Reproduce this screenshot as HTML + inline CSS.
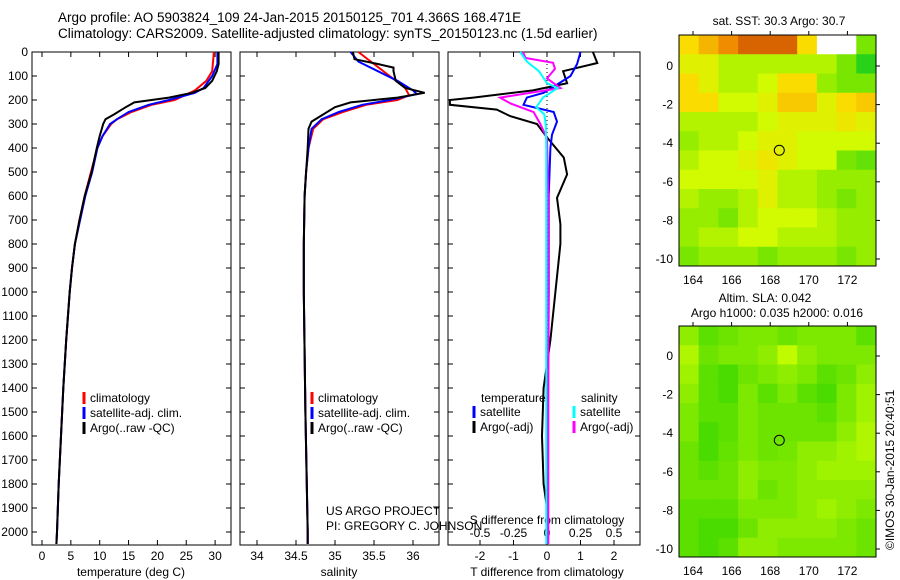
<!DOCTYPE html>
<html><head><meta charset="utf-8"><style>
html,body{margin:0;padding:0;background:#fff;}
svg{display:block;font-family:"Liberation Sans",sans-serif;}
</style></head><body>
<svg id="fig" width="900" height="580" viewBox="0 0 900 580" xmlns="http://www.w3.org/2000/svg">
<text x="58" y="22" font-size="13.5">Argo profile: AO 5903824_109 24-Jan-2015 20150125_701 4.366S 168.471E</text>
<text x="58" y="38" font-size="13.5">Climatology: CARS2009. Satellite-adjusted climatology: synTS_20150123.nc (1.5d earlier)</text>
<g id="g"></g>
</svg>
<script>
// ---- data ----
const depthTicks=[0,100,200,300,400,500,600,700,800,900,1000,1100,1200,1300,1400,1500,1600,1700,1800,1900,2000];
const tempTicks=[0,5,10,15,20,25,30];
const salTicks=[34,34.5,35,35.5,36];
const salTickLabels=["34","34.5","35","35.5","36"];
const tdTicks=[-2,-1,0,1,2];
const sdTicks=[-0.5,-0.25,0,0.25,0.5];
const sdTickLabels=["-0.5","-0.25","0","0.25","0.5"];
const tArgoD=[0,50,80,120,150,170,190,200,210,230,260,280,300,350,400,500,600,700,800,900,1000,1200,1400,1600,1800,2000,2050];
const tArgoV=[30.6,30.6,30.3,29.5,28.3,26,22,19,16,14.5,12.5,11,10.6,10,9.5,8.6,7.4,6.5,5.7,5.2,4.8,4.2,3.7,3.3,2.9,2.6,2.5];
const tClimD=[0,80,120,160,200,220,250,280,300,350,400,500,600,700,800,900,1000,1200,1400,1600,1800,2000,2050];
const tClimV=[29.8,29.5,28.5,26.5,23,19,15.5,13,12,10.5,9.6,8.5,7.4,6.5,5.7,5.2,4.8,4.2,3.7,3.3,2.9,2.6,2.5];
const tSatD=[0,50,100,150,170,200,220,250,280,300,350,400,500,600,700,800,900,1000,1200,1400,1600,1800,2000,2050];
const tSatV=[30.4,30.4,29.5,28,26.5,22,18.5,15,13,11.8,10.5,9.6,8.7,7.5,6.6,5.7,5.2,4.8,4.2,3.7,3.3,2.9,2.6,2.5];
const sArgoD=[0,30,50,65,80,120,150,170,190,200,210,230,260,290,320,400,500,600,800,1000,1500,2000,2050];
const sArgoV=[35.23,35.25,35.55,35.75,35.75,35.78,35.9,36.15,35.8,35.5,35.2,35.0,34.85,34.7,34.66,34.65,34.63,34.61,34.6,34.6,34.62,34.65,34.65];
const sClimD=[0,50,100,150,180,200,220,250,280,320,400,500,600,800,1000,1500,2000,2050];
const sClimV=[35.3,35.5,35.7,35.9,35.95,35.8,35.4,35.1,34.85,34.72,34.66,34.63,34.61,34.6,34.6,34.62,34.65,34.65];
const sSatD=[0,40,80,120,160,175,200,220,250,280,320,400,500,600,800,1000,1500,2000,2050];
const sSatV=[35.2,35.3,35.55,35.8,36.0,36.05,35.7,35.35,35.05,34.83,34.7,34.66,34.63,34.61,34.6,34.6,34.62,34.65,34.65];
const dTArgoD=[0,46,80,130,160,190,200,220,240,267,300,356,440,510,608,717,800,1000,1200,1300,1400,1600,1800,1900,2050];
const dTArgoV=[1.37,1.5,0.48,0.6,-0.42,-2.2,-2.9,-2.9,-1.5,-1.1,-0.3,0,0.5,0.6,0.3,0.4,0.4,0.25,0.1,0,-0.1,-0.15,-0.1,0,0];
const dTSatD=[0,50,100,140,170,190,220,250,290,345,400,600,1000,1500,2050];
const dTSatV=[1.0,0.9,0.7,0.25,-0.1,-0.6,-0.7,0.2,0.3,0.15,0.1,0.05,0.05,0.03,0.03];
const dSArgoD=[0,25,45,70,110,150,190,215,250,300,360,600,1000,1500,2050];
const dSArgoV=[-0.18,-0.16,0.045,0.06,0.0,0.1,-0.35,-0.27,-0.1,-0.05,0,0.01,0.01,0.01,0.01];
const dSSatD=[0,40,80,130,150,190,230,260,300,400,1000,2050];
const dSSatV=[-0.2,-0.15,-0.06,0,0.08,-0.03,-0.08,-0.02,-0.01,-0.005,-0.005,-0.005];
const lonTicks=[164,166,168,170,172];
const latTicks=[0,-2,-4,-6,-8,-10];
const sstGrid=[
[0.6,0.7,0.8,0.9,0.9,0.9,0.6,-1,-1,0.3],
[0.5,0.5,0.4,0.4,0.4,0.4,0.4,0.4,0.3,0.1],
[0.6,0.5,0.4,0.4,0.45,0.6,0.6,0.35,0.3,0.3],
[0.6,0.6,0.45,0.45,0.5,0.65,0.65,0.5,0.6,0.65],
[0.4,0.4,0.4,0.4,0.45,0.5,0.5,0.5,0.55,0.5],
[0.35,0.4,0.4,0.45,0.5,0.5,0.45,0.45,0.45,0.45],
[0.4,0.45,0.45,0.5,0.55,0.5,0.45,0.45,0.3,0.25],
[0.45,0.45,0.45,0.45,0.5,0.4,0.4,0.35,0.35,0.35],
[0.4,0.35,0.35,0.4,0.5,0.4,0.4,0.35,0.3,0.35],
[0.35,0.35,0.3,0.4,0.45,0.45,0.45,0.4,0.35,0.35],
[0.35,0.4,0.4,0.45,0.45,0.4,0.4,0.4,0.35,0.35],
[0.3,0.35,0.35,0.35,0.3,0.35,0.35,0.35,0.3,0.35]];
const slaGrid=[
[0.6,0.3,0.4,0.5,0.5,0.4,0.5,0.5,0.5,0.3],
[0.8,0.4,0.5,0.5,0.6,0.9,0.6,0.5,0.5,0.5],
[0.7,0.3,0.2,0.4,0.5,0.6,0.5,0.3,0.4,0.6],
[0.6,0.3,0.2,0.5,0.3,0.5,0.3,0.2,0.5,0.7],
[0.5,0.3,0.3,0.5,0.4,0.4,0.4,0.3,0.5,0.7],
[0.5,0.2,0.3,0.5,0.4,0.4,0.4,0.4,0.6,0.8],
[0.4,0.2,0.35,0.5,0.4,0.45,0.6,0.6,0.7,0.8],
[0.4,0.3,0.4,0.6,0.5,0.5,0.6,0.7,0.7,0.7],
[0.4,0.4,0.4,0.6,0.4,0.5,0.6,0.6,0.6,0.6],
[0.3,0.3,0.3,0.5,0.5,0.5,0.6,0.7,0.6,0.5],
[0.3,0.2,0.2,0.4,0.6,0.6,0.6,0.6,0.5,0.4],
[0.3,0.2,0.3,0.6,0.6,0.5,0.5,0.5,0.5,0.4]];
const argoLon=168.471, argoLat=-4.366;

// ---- drawing ----
const NS="http://www.w3.org/2000/svg";
const G=document.getElementById('g');
function mk(tag,attrs,parent){const e=document.createElementNS(NS,tag);for(const k in attrs)e.setAttribute(k,attrs[k]);(parent||G).appendChild(e);return e;}
function txt(x,y,s,size,anchor,name){const t=mk('text',{x:x,y:y,'font-size':size||12,'text-anchor':anchor||'start'});t.textContent=s;


return t;}
const Y=d=>52+d*0.24;
const xT=v=>42+v*5.77;
const xS=v=>257+(v-34)*78;
const xDT=v=>547+v*33.5;
const xDS=v=>547+v*134;
function poly(D,V,fx,col,w,name){const p=D.map((d,i)=>fx(V[i]).toFixed(1)+','+Y(d).toFixed(1)).join(' ');
const e=mk('polyline',{points:p,fill:'none',stroke:col,'stroke-width':w||2});

}
function frame(x0,x1,name){const r=mk('rect',{x:x0,y:52,width:x1-x0,height:493,fill:'none',stroke:'#000','stroke-width':1});

}
function xticks(vals,labels,fx,ylab){vals.forEach((v,i)=>{const x=fx(v);mk('line',{x1:x,x2:x,y1:545,y2:540,stroke:'#000'});mk('line',{x1:x,x2:x,y1:52,y2:57,stroke:'#000'});txt(x,ylab,labels[i],12,'middle','x-tick-label');});}
function yticks(x0,x1,lab){depthTicks.forEach(d=>{const y=Y(d);mk('line',{x1:x0,x2:x0+5,y1:y,y2:y,stroke:'#000'});mk('line',{x1:x1,x2:x1-5,y1:y,y2:y,stroke:'#000'});if(lab)txt(28,y+4,String(d),12,'end','depth-tick-label');});}
// panel 1
frame(32,231,'temperature-panel');yticks(32,231,true);
xticks(tempTicks,tempTicks.map(String),xT,560);
txt(131,576,'temperature (deg C)',12,'middle','temperature-axis-title');
poly(tClimD,tClimV,xT,'#f00',2,'temperature-climatology-line');
poly(tSatD,tSatV,xT,'#00f',2,'temperature-satellite-line');
poly(tArgoD,tArgoV,xT,'#000',2,'temperature-argo-line');
// panel 2
frame(240,439,'salinity-panel');yticks(240,439,false);
xticks(salTicks,salTickLabels,xS,560);
txt(339,576,'salinity',12,'middle','salinity-axis-title');
poly(sClimD,sClimV,xS,'#f00',2,'salinity-climatology-line');
poly(sSatD,sSatV,xS,'#00f',2,'salinity-satellite-line');
poly(sArgoD,sArgoV,xS,'#000',2,'salinity-argo-line');
// legends
function leg(x,y,col,s){mk('line',{x1:x,x2:x,y1:y-10,y2:y+2,stroke:col,'stroke-width':3});txt(x+6,y,s,12,'start','legend-entry');}
[[35,'#f00','climatology'],[50,'#00f','satellite-adj. clim.'],[65,'#000','Argo(..raw -QC)']].forEach(a=>{leg(84,a[0]+367,a[1],a[2]);leg(312,a[0]+367,a[1],a[2]);});
txt(326,515,'US ARGO PROJECT',12,'start','project-label');
txt(326,530,'PI: GREGORY C. JOHNSON',12,'start','pi-label');
// panel 3
frame(448,640,'difference-panel');yticks(448,640,false);
mk('line',{x1:547,x2:547,y1:52,y2:545,stroke:'#000','stroke-dasharray':'1,3'});
xticks(tdTicks,tdTicks.map(String),xDT,560);
sdTicks.forEach((v,i)=>txt(xDS(v),537,sdTickLabels[i],12,'middle','s-diff-tick-label'));
txt(547,524,'S difference from climatology',12,'middle','s-diff-axis-title');
txt(547,576,'T difference from climatology',12,'middle','t-diff-axis-title');
poly(dTArgoD,dTArgoV,xDT,'#000',2,'t-diff-argo-line');
poly(dTSatD,dTSatV,xDT,'#00f',2,'t-diff-satellite-line');
poly(dSArgoD,dSArgoV,xDS,'#f0f',2,'s-diff-argo-line');
poly(dSSatD,dSSatV,xDS,'#0ff',2,'s-diff-satellite-line');
txt(481,402,'temperature',12,'start','legend-header-temperature');
txt(581,402,'salinity',12,'start','legend-header-salinity');
leg(474,416,'#00f','satellite');leg(474,431,'#000','Argo(-adj)');
leg(574,416,'#0ff','satellite');leg(574,431,'#f0f','Argo(-adj)');
// maps
function sstCol(v){if(v<0)return '#fff';const stops=[[0,[0,200,40]],[0.3,[120,230,0]],[0.45,[210,250,0]],[0.6,[250,220,0]],[0.8,[240,140,0]],[1,[190,60,0]]];
for(let i=1;i<stops.length;i++){if(v<=stops[i][0]){const a=stops[i-1],b=stops[i],t=(v-a[0])/(b[0]-a[0]);return 'rgb('+a[1].map((c,k)=>Math.round(c+(b[1][k]-c)*t)).join(',')+')';}}return 'rgb(190,60,0)';}
function slaCol(v){const a=[40,210,0],b=[210,255,0];return 'rgb('+a.map((c,k)=>Math.round(c+(b[k]-c)*v)).join(',')+')';}
function map(top,bottom,lat0y,grid,colf,name){
const x0=679,x1=876,lx=lon=>693+(lon-164)*19.3,ly=lat=>lat0y-lat*19.3;
const g=mk('g',{});
const rows=grid.length,cols=grid[0].length,cw=(x1-x0)/cols,ch=(bottom-top)/rows;
grid.forEach((row,r)=>row.forEach((v,c)=>{const e=mk('rect',{x:x0+c*cw,y:top+r*ch,width:cw+0.5,height:ch+0.5,fill:colf(v)},g);

}));
mk('rect',{x:x0,y:top,width:x1-x0,height:bottom-top,fill:'none',stroke:'#000'},g);
lonTicks.forEach(l=>{const x=lx(l);mk('line',{x1:x,x2:x,y1:top,y2:top-4,stroke:'#000'},g);txt(x,bottom+18,String(l),12,'middle','lon-tick-label');});
latTicks.forEach(l=>{const y=ly(l);mk('line',{x1:x1,x2:x1+4,y1:y,y2:y,stroke:'#000'},g);txt(x0-6,y+4,String(l),12,'end','lat-tick-label');});
const c=mk('circle',{cx:lx(argoLon),cy:ly(argoLat),r:5,fill:'none',stroke:'#000','stroke-width':1},g);

}
map(35,266,66,sstGrid,sstCol,'sst-map');
txt(779,25,'sat. SST: 30.3  Argo: 30.7',12,'middle','sst-map-title');
map(326,557,356,slaGrid,slaCol,'sla-map');
txt(765,302,'Altim. SLA: 0.042',12,'middle','sla-map-title');
txt(777,317,'Argo h1000: 0.035 h2000: 0.016',12,'middle','sla-map-subtitle');
const c=txt(0,0,'©IMOS 30-Jan-2015 20:40:51',12,'start','imos-credit');
c.setAttribute('transform','translate(894,550) rotate(-90)');
</script>
</body></html>
